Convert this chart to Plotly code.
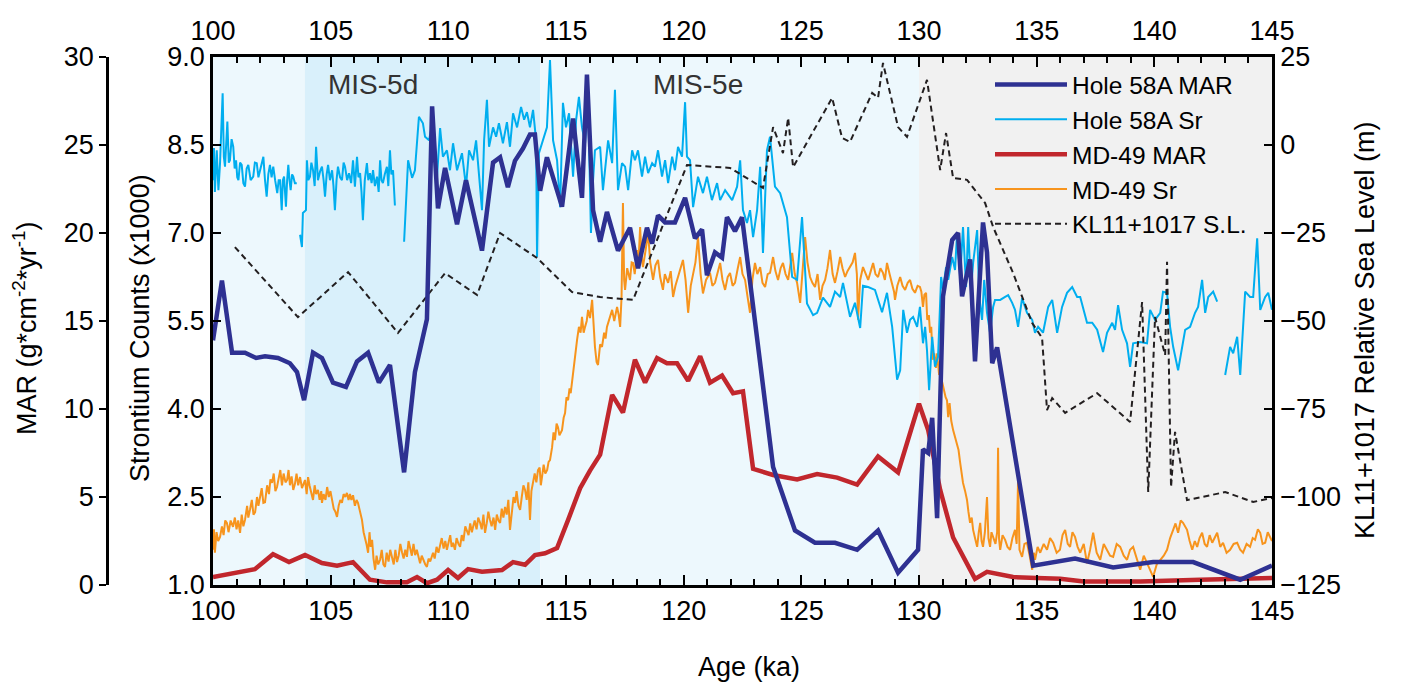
import plotly.graph_objects as go

# ---------------- data ----------------
HOLE58A_MAR_AGE = [100.0, 100.38, 100.81, 101.36, 101.83, 102.21, 102.76, 103.27, 103.57, 103.87, 104.25, 104.63,
                   105.10, 105.65, 106.12, 106.59, 107.05, 107.52, 108.12, 108.58, 109.09, 109.31, 109.56, 109.86,
                   110.37, 110.75, 111.43, 111.9, 112.2, 112.53, 112.83, 113.17, 113.47, 113.68, 113.9, 114.19,
                   114.83, 115.3, 115.68, 115.89, 116.15, 116.45, 116.74, 117.21, 117.72, 118.06, 118.44, 118.66,
                   118.91, 119.21, 119.63, 120.06, 120.48, 120.78, 120.99, 121.33, 121.63, 121.84, 122.18, 122.48,
                   123.80, 124.73, 125.58, 126.43, 127.37, 128.26, 129.11, 129.96, 130.17, 130.39, 130.56, 130.77,
                   131.02, 131.41, 131.66, 131.83, 132.17, 132.38, 132.72, 132.89, 133.11, 133.32, 134.85, 136.63,
                   138.25, 139.95, 141.65, 143.65, 145.0]
HOLE58A_MAR = [13.9, 17.3, 13.2, 13.2, 12.9, 13.0, 12.9, 12.6, 12.1, 10.5, 13.2, 12.9,
               11.5, 11.25, 12.7, 13.2, 11.5, 12.5, 6.4, 12.1, 15.1, 27.2, 21.4, 23.7,
               20.5, 23.0, 19.0, 24.0, 24.3, 22.6, 24.1, 24.8, 25.6, 25.6, 22.4, 24.3,
               21.5, 26.5, 22.0, 29.0, 21.3, 19.5, 21.2, 19.0, 20.3, 18.0, 20.3, 19.4,
               21.0, 20.6, 20.6, 22.0, 19.7, 20.2, 17.6, 18.9, 18.6, 20.9, 20.1, 20.9,
               6.7, 3.1, 2.4, 2.4, 2.0, 3.1, 0.7, 2.0, 7.7, 7.5, 9.5, 3.8,
               16.4, 19.6, 20.0, 16.4, 18.5, 12.7, 20.6, 18.9, 12.6, 13.5, 1.1, 1.5,
               1.0, 1.3, 1.3, 0.3, 1.1]

MD49_MAR_AGE = [100.0, 101.78, 102.55, 103.23, 103.91, 104.63, 105.27, 105.95, 106.67, 107.39, 108.24, 108.67,
                109.09, 109.52, 109.99, 110.41, 110.84, 111.43, 112.28, 112.75, 113.26, 113.68, 114.11, 114.62,
                115.09, 115.60, 116.02, 116.45, 116.96, 117.42, 117.93, 118.36, 118.87, 119.29, 119.72, 120.19,
                120.70, 121.12, 121.63, 122.10, 122.52, 122.95, 123.80, 124.82, 125.67, 126.52, 127.37, 128.26,
                129.11, 130.0, 130.39, 130.90, 131.45, 132.38, 132.89, 134.0, 135.0, 136.0, 137.0, 139.4,
                141.95, 145.0]
MD49_MAR = [0.45, 0.9, 1.75, 1.3, 1.7, 1.25, 1.1, 1.3, 0.3, 0.15, 0.15, 0.45,
            0.1, 0.3, 0.85, 0.4, 0.9, 0.75, 0.85, 1.3, 1.15, 1.7, 1.8, 2.1,
            3.7, 5.5, 6.5, 7.4, 10.8, 9.8, 12.8, 11.5, 12.9, 12.6, 12.6, 11.6,
            13.0, 11.5, 11.9, 10.9, 11.0, 6.6, 6.25, 6.0, 6.3, 6.1, 5.7, 7.3,
            6.4, 10.3, 8.8, 5.4, 2.7, 0.35, 0.75, 0.45, 0.4, 0.35, 0.2, 0.2,
            0.3, 0.4]

SL_AGE = [100.93, 103.61, 105.74, 107.86, 109.86, 111.22, 112.20, 113.77, 115.26, 116.45, 117.85, 120.14,
          121.97, 123.37, 123.80, 124.22, 124.44, 124.65, 126.31, 126.73, 127.07, 128.01, 128.26, 128.47,
          129.11, 129.49, 130.34, 130.90, 131.15, 131.45, 132.04, 132.81, 133.15, 134.0, 134.81, 135.23,
          135.44, 135.66, 136.21, 137.57, 138.97, 139.48, 139.74, 140.03, 140.46, 140.54, 140.71, 140.88,
          141.39, 143.01, 144.20, 145.0]
SL = [-29.0, -48.9, -36.1, -53.4, -36.4, -42.6, -25.0, -32.1, -41.8, -43.2, -44.0, -5.7,
      -6.5, -12.2, 5.1, -2.3, 7.7, -6.3, 13.4, 2.0, 0.9, 14.8, 13.4, 23.3,
      5.1, 2.3, 18.5, -7.1, 3.4, -9.4, -9.9, -16.5, -23.3, -36.4, -50.6, -54.8,
      -75.3, -71.9, -76.1, -70.5, -78.7, -44.6, -98.6, -48.9, -59.7, -33.2, -97.2, -81.5,
      -100.9, -98.6, -101.4, -100.3]

HOLE58A_SR_AGE = [
    100.0, 100.04, 100.08, 100.16, 100.23, 100.3, 100.41, 100.46, 100.51, 100.56, 100.61, 100.67, 100.72, 100.79,
    100.86, 100.92, 100.98, 101.03, 101.08, 101.15, 101.22, 101.29, 101.36, 101.43, 101.5, 101.6, 101.71, 101.78,
    101.86, 101.93, 102.0, 102.07, 102.14, 102.21, 102.28, 102.35, 102.42, 102.49, 102.56, 102.64, 102.73, 102.79,
    102.85, 102.92, 102.97, 103.02, 103.06, 103.1, 103.15, 103.2, 103.25, 103.3, 103.36, 103.41, 103.48, 103.56,
    None,
    103.7, 103.78, 103.82, 103.95, 103.99, 104.05, 104.12, 104.18, 104.25, 104.32, 104.38, 104.46, 104.55, 104.63,
    104.7, 104.76, 104.83, 104.89, 104.97, 105.06, 105.12, 105.18, 105.25, 105.31, 105.4, 105.48, 105.55, 105.61,
    105.7, 105.78, 105.87, 105.95, 106.03, 106.08, 106.12, 106.18, 106.25, 106.31, 106.37, 106.45, 106.54, 106.6,
    106.67, 106.74, 106.8, 106.88, 106.97, 107.04, 107.1, 107.16, 107.22, 107.3, 107.39, 107.45, 107.52, 107.58,
    107.65, 107.73,
    None,
    108.12, 108.29, 108.46, 108.58, 108.75, 108.92, 109.01, 109.18, 109.35, 109.52, 109.65, 109.77, 109.94, 110.07,
    110.2, 110.37, 110.58, 110.75, 110.88, 111.05, 111.18, 111.3, 111.43, 111.52, 111.64, 111.73, 111.9, 112.03,
    112.15, 112.32, 112.49, 112.62, 112.75, 112.92, 113.09, 113.22, 113.34, 113.47, 113.6, 113.73, 113.77, 113.85,
    114.02, 114.19, 114.32, 114.45, 114.62, 114.75, 114.87, 115.0, 115.13, 115.3, 115.43, 115.55, 115.68, 115.81,
    115.94, 116.06, 116.15, 116.23, 116.45, 116.57, 116.79, 116.96, 117.08, 117.21, 117.38, 117.51, 117.64, 117.81,
    117.93, 118.06, 118.23, 118.36, 118.49, 118.66, 118.78, 118.91, 119.08, 119.21, 119.34, 119.51, 119.63, 119.76,
    119.93, 120.06, 120.14, 120.27, 120.4, 120.61, 120.82, 120.99, 121.2, 121.42, 121.55, 121.76, 122.06, 122.27,
    122.4, 122.52, 122.69, 122.82, 122.95, 123.12, 123.25, 123.37, 123.54, 123.67, 123.88, 124.1, 124.39, 124.61,
    124.82, 125.03, 125.24, 125.5, 125.67, 125.92, 126.22, 126.43, 126.65, 126.77, 127.07, 127.28, 127.5, 127.62,
    127.84, 128.13, 128.43, 128.64, 128.86, 129.07, 129.2, 129.33, 129.49, 129.62, 129.75, 129.92, 130.04, 130.17,
    130.26, 130.34, 130.43, 130.56, 130.68, 130.81, 130.94, 131.02, 131.15, 131.24, 131.41, 131.53, 131.62, 131.75,
    131.87, 132.0, 132.09, 132.21, 132.3, 132.47, 132.56, 132.68, 132.77, 132.89, 133.02, 133.15, 133.23, 133.45,
    133.66, 133.79, 133.96, 134.08, 134.21, 134.38, 134.59, 134.81, 134.93, 135.06, 135.27, 135.49, 135.66, 135.87,
    136.08, 136.29, 136.51, 136.72, 136.85, 137.14, 137.36, 137.57, 137.82, 137.99, 138.21, 138.33, 138.46, 138.63,
    138.84, 138.97, 139.1, 139.4, 139.69, 139.82, 140.03, 140.25, 140.37, 140.54, 140.67, 140.8, 141.01, 141.18,
    141.31, 141.52, 141.73, 141.86, 142.03, 142.16, 142.29, 142.5, 142.67,
    None,
    143.01, 143.22, 143.35, 143.52, 143.65, 143.86, 144.07, 144.2, 144.37, 144.5, 144.71, 144.84, 145.0]
HOLE58A_SR = [
    7.9, 8.45, 7.7, 8.41, 7.73, 8.2, 9.38, 8.3, 8.13, 8.5, 8.9, 8.2, 8.24, 8.6,
    8.47, 8.1, 8.24, 7.95, 7.9, 8.2, 8.16, 7.85, 7.79, 8.1, 8.16, 7.9, 7.96, 8.2,
    8.19, 7.95, 8.07, 8.15, 8.3, 7.9, 7.62, 8.0, 8.16, 7.95, 8.13, 7.9, 7.68, 7.9,
    7.9, 7.39, 7.9, 7.96, 7.6, 7.45, 7.9, 8.16, 7.9, 7.73, 8.0, 7.96, 7.85, 7.85,
    None,
    6.97, 6.76, 7.34, 7.39, 8.24, 7.9, 7.96, 8.2, 8.07, 7.8, 8.47, 7.9, 8.05, 8.13,
    7.9, 7.62, 8.0, 8.16, 7.9, 8.07, 7.8, 7.39, 7.9, 8.13, 7.95, 7.9, 8.2, 8.13,
    7.9, 8.02, 7.85, 8.24, 7.79, 8.0, 8.3, 7.95, 8.02, 7.7, 7.22, 7.9, 8.19, 7.9,
    8.02, 7.85, 8.07, 7.8, 7.96, 7.7, 8.24, 7.9, 7.85, 8.0, 8.13, 7.8, 8.41, 8.0,
    8.07, 7.47,
    None,
    6.85, 8.24, 7.94, 8.07, 8.98, 8.87, 8.64, 8.58, 8.93, 7.96, 8.79, 8.3, 8.41, 8.07,
    8.53, 8.07, 8.36, 7.79, 8.41, 8.24, 8.58, 8.02, 7.39, 8.58, 9.27, 8.47, 8.8, 8.64,
    8.87, 8.53, 8.89, 8.47, 9.04, 8.8, 9.15, 8.93, 9.06, 8.8, 9.1, 8.58, 6.59, 8.36,
    8.58, 8.8, 9.95, 8.58, 8.24, 7.44, 9.22, 8.8, 9.04, 7.96, 8.93, 9.32, 8.8, 8.53,
    9.27, 7.0, 7.9, 8.41, 8.47, 7.73, 8.58, 8.19, 9.44, 7.73, 8.19, 8.13, 7.73, 8.41,
    8.24, 8.41, 7.96, 8.3, 8.02, 8.19, 8.13, 8.41, 7.96, 8.24, 7.85, 8.3, 8.07, 8.47,
    8.3, 9.23, 8.3, 8.24, 7.44, 7.96, 7.68, 7.96, 7.56, 7.85, 7.56, 7.73, 7.56, 7.79,
    8.24, 7.39, 7.17, 7.39, 6.93, 7.39, 8.13, 6.66, 8.41, 8.64, 7.79, 7.68, 7.27, 6.25,
    6.2, 7.27, 5.8, 5.6, 5.64, 5.9, 5.74, 6.0, 5.91, 6.15, 5.57, 5.81, 5.38, 6.1,
    6.08, 6.03, 5.65, 5.98, 5.4, 4.5, 4.66, 5.69, 5.3, 5.52, 5.57, 5.4, 5.74, 5.12,
    5.4, 5.0, 4.32, 5.23, 4.72, 4.89, 6.25, 6.03, 6.42, 6.2, 6.59, 6.37, 7.0, 6.25,
    7.1, 6.08, 7.1, 6.03, 6.49, 7.05, 5.91, 5.52, 6.2, 5.64, 5.3, 5.74, 5.86, 5.86,
    5.91, 5.94, 5.81, 5.69, 5.4, 5.89, 5.64, 5.52, 5.3, 5.4, 5.3, 5.74, 5.86, 5.3,
    5.74, 5.98, 6.08, 5.91, 5.91, 5.47, 5.47, 5.35, 4.97, 5.3, 5.47, 5.35, 5.77, 5.35,
    5.12, 4.72, 5.12, 5.14, 5.12, 5.69, 5.52, 5.64, 6.0, 5.98, 5.4, 5.06, 4.66, 5.06,
    5.35, 5.4, 5.64, 5.74, 6.2, 5.64, 5.91, 6.0, 5.83,
    None,
    4.58, 5.06, 4.95, 5.23, 4.58, 6.0, 5.91, 5.91, 6.91, 5.69, 5.91, 5.98, 5.69]

MD49_SR_AGE = [
    100.0, 100.04, 100.08, 100.15, 100.22, 100.3, 100.38, 100.45, 100.52, 100.59, 100.66, 100.75, 100.85, 100.93,
    101.0, 101.07, 101.15, 101.22, 101.29, 101.36, 101.45, 101.5, 101.57, 101.65, 101.72, 101.79, 101.87, 101.93,
    102.0, 102.07, 102.14, 102.21, 102.3, 102.38, 102.44, 102.51, 102.58, 102.65, 102.72, 102.8, 102.86, 102.93,
    103.0, 103.08, 103.15, 103.21, 103.27, 103.34, 103.41, 103.48, 103.55, 103.62, 103.7, 103.78, 103.85, 103.91,
    103.98, 104.04, 104.1, 104.17, 104.25, 104.32, 104.38, 104.46, 104.53, 104.6, 104.63, 104.7, 104.78, 104.85,
    104.92, 104.99, 105.06, 105.13, 105.2, 105.27, 105.34, 105.41, 105.48, 105.55, 105.62, 105.69, 105.76, 105.82,
    105.88, 105.95, 106.03, 106.1, 106.16, 106.24, 106.33, 106.4, 106.46, 106.52, 106.59, 106.65, 106.7, 106.76,
    106.82, 106.89, 106.95, 107.02, 107.1, 107.17, 107.24, 107.31, 107.38, 107.46, 107.53, 107.61, 107.68, 107.75,
    107.82, 107.89, 107.96, 108.03, 108.1, 108.17, 108.24, 108.31, 108.37, 108.45, 108.52, 108.59, 108.66, 108.73,
    108.8, 108.87, 108.95, 109.02, 109.09, 109.16, 109.23, 109.35, 109.42, 109.5, 109.58, 109.65, 109.72, 109.8,
    109.87, 109.94, 110.01, 110.08, 110.14, 110.2, 110.28, 110.35, 110.43, 110.5, 110.57, 110.64, 110.72, 110.79,
    110.86, 110.93, 111.0, 111.05, 111.12, 111.2, 111.27, 111.35, 111.42, 111.49, 111.56, 111.63, 111.7, 111.77,
    111.84, 111.92, 111.99, 112.06, 112.13, 112.2, 112.27, 112.34, 112.41, 112.48, 112.55, 112.62, 112.7, 112.77,
    112.84, 112.9, 112.98, 113.05, 113.12, 113.19, 113.26, 113.33, 113.4, 113.47, 113.53, 113.6, 113.67, 113.74,
    113.81, 113.88, 113.93, 113.98, 114.05, 114.12, 114.2, 114.26, 114.32, 114.41, 114.47, 114.53, 114.6, 114.66,
    114.72, 114.83, 114.9, 114.96, 115.02, 115.09, 115.15, 115.2, 115.26, 115.33, 115.4, 115.47, 115.55, 115.62,
    115.68, 115.75, 115.81, 115.88, 115.94, 116.02, 116.11, 116.17, 116.23, 116.3, 116.36, 116.45, 116.53, 116.62,
    116.68, 116.74, 116.85, 116.96, 117.05, 117.17, 117.24, 117.3, 117.36, 117.42, 117.47, 117.51, 117.6, 117.72,
    117.79, 117.85, 117.92, 118.02, 118.08, 118.15, 118.21, 118.27, 118.38, 118.49, 118.58, 118.7, 118.8, 118.91,
    119.0, 119.12, 119.2, 119.34, 119.45, 119.55, 119.65, 119.76, 119.88, 119.97, 120.08, 120.19, 120.3, 120.4,
    120.5, 120.61, 120.72, 120.82, 120.95, 121.12, 121.22, 121.33, 121.45, 121.55, 121.65, 121.76, 121.87, 121.97,
    122.08, 122.18, 122.3, 122.4, 122.5, 122.61, 122.72, 122.82, 122.92, 123.03, 123.13, 123.25, 123.35, 123.46,
    123.57, 123.67, 123.8, 123.9, 124.01, 124.12, 124.22, 124.33, 124.44, 124.52, 124.61, 124.72, 124.82, 124.95,
    125.05, 125.16, 125.26, 125.37, 125.47, 125.58, 125.69, 125.8, 125.9, 126.01, 126.11, 126.22, 126.33, 126.43,
    126.54, 126.65, 126.75, 126.86, 126.96, 127.07, 127.18, 127.28, 127.36, 127.41, 127.5, 127.62, 127.73, 127.84,
    127.95, 128.05, 128.15, 128.26, 128.36, 128.47, 128.55, 128.64, 128.75, 128.86, 128.94, 128.98, 129.08, 129.2,
    129.3, 129.41, 129.52, 129.62, 129.72, 129.83, 129.94, 130.04, 130.1, 130.17, 130.23, 130.3, 130.35, 130.42,
    130.47, 130.52, 130.58, 130.65, 130.72, 130.77, 130.85, 130.9, 130.96, 131.02, 131.08, 131.13, 131.19, 131.24,
    131.3, 131.37, 131.45, 131.54, 131.62, 131.68, 131.75, 131.8, 131.87, 131.96, 132.04, 132.1, 132.17, 132.24,
    132.3, 132.38, 132.47, 132.54, 132.6, 132.66, 132.72, 132.8, 132.89, 132.95, 133.02, 133.08, 133.15, 133.25,
    133.32, 133.36, 133.4, 133.45, 133.55, 133.66, 133.76, 133.87, 133.97, 134.08, 134.15, 134.21, 134.27, 134.38,
    134.48, 134.59, 134.7, 134.81, 134.88, 134.93, 135.04, 135.15, 135.3, 135.44, 135.57, 135.7, 135.85, 135.99,
    136.1, 136.21, 136.32, 136.42, 136.52, 136.63, 136.74, 136.85, 137.0, 137.14, 137.27, 137.4, 137.55, 137.7,
    137.85, 137.99, 138.12, 138.25, 138.4, 138.55, 138.7, 138.84, 138.97, 139.1, 139.25, 139.4, 139.55, 139.69,
    139.82, 139.95, 140.1, 140.25, 140.4, 140.54, 140.67, 140.8, 140.9, 141.01, 141.12, 141.22, 141.31, 141.39,
    141.5, 141.61, 141.72, 141.82, 141.92, 142.03, 142.14, 142.24, 142.35, 142.46, 142.56, 142.67, 142.8, 142.92,
    143.07, 143.22, 143.37, 143.52, 143.65, 143.77, 143.92, 144.07, 144.18, 144.28, 144.4, 144.5, 144.6, 144.71,
    144.82, 144.92, 145.0]
MD49_SR = [
    1.6, 1.95, 1.55, 1.9, 1.75, 1.82, 2.0, 1.85, 2.1, 2.06, 1.9, 2.1, 1.99, 2.15,
    1.95, 2.1, 1.89, 2.2, 2.0, 2.11, 2.35, 2.15, 2.28, 2.45, 2.2, 2.24, 2.5, 2.35,
    2.5, 2.65, 2.4, 2.41, 2.7, 2.55, 2.8, 2.74, 2.9, 2.6, 2.67, 2.85, 2.96, 2.7,
    2.9, 2.75, 2.79, 2.96, 2.7, 2.85, 2.62, 2.72, 2.9, 2.7, 2.84, 2.65, 2.75, 2.79,
    2.55, 2.84, 2.7, 2.6, 2.45, 2.7, 2.55, 2.62, 2.45, 2.6, 2.4, 2.55, 2.45, 2.67,
    2.5, 2.6, 2.45, 2.3, 2.25, 2.16, 2.35, 2.45, 2.4, 2.55, 2.5, 2.57, 2.45, 2.55,
    2.45, 2.53, 2.35, 2.45, 2.4, 2.25, 2.11, 1.9, 1.82, 1.7, 1.55, 1.9, 1.65, 1.77,
    1.45, 1.26, 1.5, 1.35, 1.43, 1.6, 1.35, 1.31, 1.55, 1.4, 1.6, 1.48, 1.35, 1.6,
    1.39, 1.5, 1.7, 1.56, 1.45, 1.6, 1.48, 1.75, 1.65, 1.5, 1.7, 1.51, 1.6, 1.45,
    1.37, 1.5, 1.4, 1.35, 1.31, 1.45, 1.4, 1.55, 1.45, 1.65, 1.55, 1.68, 1.8, 1.62,
    1.75, 1.6, 1.72, 1.85, 1.65, 1.72, 1.6, 1.8, 1.7, 1.65, 1.85, 1.75, 2.0, 1.94,
    1.85, 2.05, 1.9, 1.99, 2.1, 1.95, 2.15, 2.06, 1.95, 2.2, 1.89, 2.05, 2.25, 2.11,
    2.0, 2.15, 1.94, 2.2, 2.1, 2.06, 2.3, 2.15, 2.33, 2.2, 2.45, 1.94, 2.3, 2.5,
    2.4, 2.6, 2.35, 2.28, 2.5, 2.7, 2.62, 2.45, 2.75, 2.11, 2.6, 2.79, 2.9, 2.75,
    2.96, 3.0, 2.7, 2.84, 3.05, 2.9, 2.96, 3.1, 3.13, 3.35, 3.6, 3.47, 3.75, 3.69,
    3.55, 3.64, 3.85, 3.93, 4.2, 4.15, 4.35, 4.27, 4.49, 4.72, 4.9, 5.18, 5.4, 5.3,
    5.57, 5.3, 5.4, 5.5, 5.69, 5.55, 5.86, 5.4, 5.06, 4.8, 4.75, 5.1, 5.06, 5.3,
    5.2, 5.4, 5.55, 5.69, 5.5, 5.74, 5.6, 5.4, 5.9, 7.51, 6.2, 6.03, 6.4, 6.2,
    6.5, 6.49, 6.3, 6.71, 6.5, 7.1, 6.6, 6.42, 6.7, 7.0, 6.5, 6.2, 6.45, 6.54,
    6.25, 6.03, 6.3, 6.15, 6.35, 5.91, 6.1, 6.25, 6.45, 6.54, 6.2, 5.64, 6.1, 6.32,
    6.5, 6.93, 6.3, 5.97, 6.2, 6.32, 6.1, 6.15, 6.35, 6.49, 6.2, 6.03, 6.25, 6.32,
    6.1, 6.15, 6.4, 6.59, 6.3, 6.2, 5.9, 5.64, 6.2, 6.49, 6.3, 6.42, 6.15, 6.08,
    6.3, 6.32, 6.59, 6.35, 6.2, 6.4, 6.49, 6.3, 6.2, 6.45, 6.66, 6.3, 6.15, 5.81,
    6.4, 6.93, 6.5, 6.25, 6.15, 6.08, 6.3, 5.86, 6.1, 6.2, 6.4, 6.71, 6.3, 6.15,
    6.35, 6.59, 6.4, 6.25, 6.35, 6.42, 6.5, 6.66, 6.3, 5.52, 6.2, 6.42, 6.3, 6.2,
    6.35, 6.49, 6.3, 6.25, 6.4, 6.32, 6.2, 6.49, 6.3, 6.15, 6.0, 5.86, 6.1, 6.25,
    6.1, 6.03, 6.15, 6.2, 6.05, 5.98, 6.1, 6.08, 6.0, 5.74, 5.95, 5.98, 5.52, 5.6,
    5.3, 5.4, 4.84, 4.95, 4.7, 4.95, 4.6, 4.61, 4.5, 4.37, 4.3, 4.2, 4.15, 3.86,
    4.1, 3.8, 3.64, 3.5, 3.42, 3.3, 3.08, 2.9, 2.74, 2.6, 2.45, 2.25, 2.06, 2.15,
    1.94, 1.8, 1.65, 1.9, 2.06, 1.75, 1.65, 1.9, 2.5, 1.8, 1.65, 1.9, 1.82, 1.7,
    1.9, 3.34, 1.8, 1.6, 1.85, 1.77, 1.65, 1.6, 1.8, 1.94, 1.7, 2.79, 1.6, 1.48,
    1.7, 1.72, 1.5, 1.26, 1.55, 1.43, 1.65, 1.55, 1.7, 1.6, 1.8, 1.72, 1.55, 1.6,
    1.85, 1.94, 1.7, 1.65, 1.9, 1.82, 1.65, 1.55, 1.7, 1.37, 1.6, 1.89, 1.55, 1.43,
    1.7, 1.6, 1.5, 1.48, 1.7, 1.65, 1.5, 1.43, 1.6, 1.65, 1.45, 1.26, 1.5, 1.37,
    1.25, 1.14, 1.35, 1.43, 1.5, 1.6, 1.8, 1.94, 2.05, 1.89, 2.1, 2.06, 2.0, 1.94,
    1.75, 1.6, 1.75, 1.65, 1.8, 1.89, 1.7, 1.65, 1.85, 1.72, 1.8, 1.89, 1.65, 1.72,
    1.55, 1.6, 1.7, 1.72, 1.6, 1.55, 1.7, 1.65, 1.8, 1.77, 1.95, 1.89, 1.7, 1.72,
    1.9, 1.82, 1.75]

SR_TICKS = [1.0, 2.5, 4.0, 5.5, 7.0, 8.5, 10.0]
SR_TICKTEXT = ["1.0", "2.5", "4.0", "5.5", "7.0", "8.5", "9.0"]
MAR_TICKS = [0, 5, 10, 15, 20, 25, 30]
SL_TICKS = [-125, -100, -75, -50, -25, 0, 25]
AGE_TICKS = [100, 105, 110, 115, 120, 125, 130, 135, 140, 145]

SHADE_EDGES = [100, 103.9, 113.9, 130, 145]
SHADE_COLORS = ["#edf8fd", "#d9f0fb", "#edf8fd", "#f1f1f1"]
MIS_LABELS = ["MIS-5d", "MIS-5e"]
MIS_AGES = [106.8, 120.6]

# ---------------- figure ----------------
W, H = 1403, 696
FONT = "Liberation Sans, Arial, Helvetica, sans-serif"
X_DOM = [213 / W, 1272 / W]
Y_DOM = [1 - 585 / H, 1 - 57 / H]

fig = go.Figure()

fig.add_trace(go.Scatter(x=MD49_SR_AGE, y=MD49_SR, mode="lines", name="MD-49 Sr",
                         line=dict(color="#f7941d", width=2), xaxis="x", yaxis="y", legendrank=4))
fig.add_trace(go.Scatter(x=HOLE58A_SR_AGE, y=HOLE58A_SR, mode="lines", name="Hole 58A Sr",
                         line=dict(color="#00aeef", width=2), connectgaps=False,
                         xaxis="x", yaxis="y", legendrank=2))
fig.add_trace(go.Scatter(x=SL_AGE, y=SL, mode="lines", name="KL11+1017 S.L.",
                         line=dict(color="#231f20", width=2, dash="6px,4px"),
                         xaxis="x", yaxis="y2", legendrank=5))
fig.add_trace(go.Scatter(x=MD49_MAR_AGE, y=MD49_MAR, mode="lines", name="MD-49 MAR",
                         line=dict(color="#c1272d", width=4.5), xaxis="x", yaxis="y3", legendrank=3))
fig.add_trace(go.Scatter(x=HOLE58A_MAR_AGE, y=HOLE58A_MAR, mode="lines", name="Hole 58A MAR",
                         line=dict(color="#2e3192", width=4.5), xaxis="x", yaxis="y3", legendrank=1))
# invisible trace to activate the top age axis
fig.add_trace(go.Scatter(x=[AGE_TICKS[0], AGE_TICKS[-1]], y=[None, None], mode="lines",
                         xaxis="x2", yaxis="y", showlegend=False, hoverinfo="skip"))

shapes = []
for i, col in enumerate(SHADE_COLORS):
    shapes.append(dict(type="rect", xref="x", yref="y domain", x0=SHADE_EDGES[i], x1=SHADE_EDGES[i + 1],
                       y0=0, y1=1, fillcolor=col, line=dict(width=0), layer="below"))

tickfont = dict(family=FONT, size=27, color="black")
axis_common = dict(showgrid=False, zeroline=False, showline=True, linecolor="black", linewidth=2.5,
                   tickcolor="black", tickwidth=2, tickfont=tickfont, automargin=False)

annotations = []
for lab, ag in zip(MIS_LABELS, MIS_AGES):
    annotations.append(dict(text=lab, x=ag, xref="x", y=1 - 85 / H, yref="paper", showarrow=False,
                            font=dict(family=FONT, size=28, color="#333333"), xanchor="center", yanchor="middle"))
annotations += [
    dict(text="Age (ka)", x=749 / W, y=1 - 667 / H, xref="paper", yref="paper", showarrow=False,
         font=dict(family=FONT, size=27, color="black"), xanchor="center", yanchor="middle"),
    dict(text="MAR (g*cm<sup>-2</sup>*yr<sup>-1</sup>)", x=25 / W, y=1 - 328 / H, xref="paper", yref="paper",
         showarrow=False, textangle=-90, font=dict(family=FONT, size=27, color="black"),
         xanchor="center", yanchor="middle"),
    dict(text="Strontium Counts (x1000)", x=140 / W, y=1 - 328 / H, xref="paper", yref="paper",
         showarrow=False, textangle=-90, font=dict(family=FONT, size=27, color="black"),
         xanchor="center", yanchor="middle"),
    dict(text="KL11+1017 Relative Sea Level (m)", x=1365 / W, y=1 - 330 / H, xref="paper", yref="paper",
         showarrow=False, textangle=-90, font=dict(family=FONT, size=27, color="black"),
         xanchor="center", yanchor="middle"),
]

fig.update_layout(
    width=W, height=H,
    margin=dict(l=0, r=0, t=0, b=0, autoexpand=False),
    paper_bgcolor="white", plot_bgcolor="white",
    font=dict(family=FONT, color="black"),
    showlegend=True,
    legend=dict(x=990 / W, y=1 - 62 / H, xanchor="left", yanchor="top", bgcolor="rgba(0,0,0,0)",
                font=dict(family=FONT, size=24.5, color="black"), borderwidth=0, itemwidth=72,
                tracegroupgap=0),
    xaxis=dict(domain=X_DOM, range=[100, 145], tickvals=AGE_TICKS, ticks="inside", ticklen=10,
               minor=dict(ticks="inside", ticklen=6, dtick=1, tickcolor="black", tickwidth=2),
               anchor="y", side="bottom", **axis_common),
    xaxis2=dict(domain=X_DOM, range=[100, 145], tickvals=AGE_TICKS, ticks="inside", ticklen=10,
                minor=dict(ticks="inside", ticklen=6, dtick=1, tickcolor="black", tickwidth=2),
                overlaying="x", anchor="y", side="top", ticklabelstandoff=3, **axis_common),
    yaxis=dict(domain=Y_DOM, range=[1, 10], tickvals=SR_TICKS, ticktext=SR_TICKTEXT, ticks="inside",
               ticklen=8, anchor="x", side="left", **axis_common),
    yaxis2=dict(range=[-125, 25], tickvals=SL_TICKS, ticks="inside", ticklen=8, overlaying="y",
                anchor="x", side="right", **axis_common),
    yaxis3=dict(range=[0, 30], tickvals=MAR_TICKS, ticks="outside", ticklen=7, overlaying="y",
                anchor="free", position=107 / W, side="left", **axis_common),
    shapes=shapes,
    annotations=annotations,
)

fig.write_html("out.html")
